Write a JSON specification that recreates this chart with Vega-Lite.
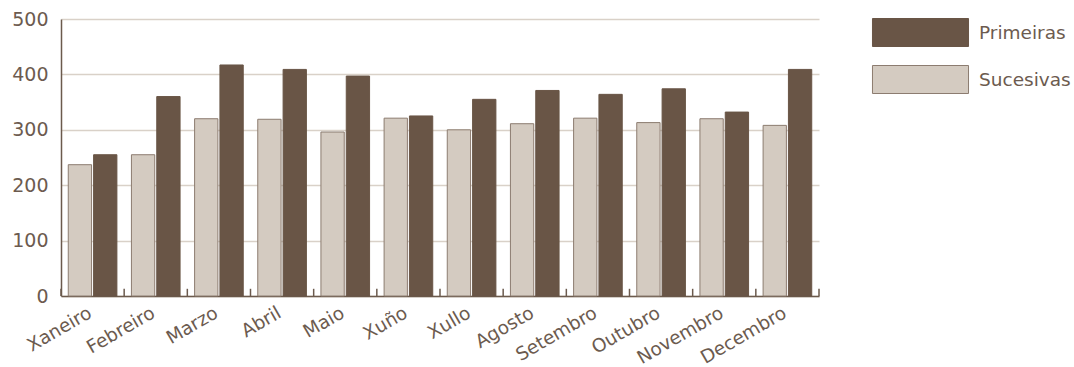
{
  "$schema": "https://vega.github.io/schema/vega-lite/v6.json",
  "width": 758,
  "height": 277,
  "autosize": {"type": "none"},
  "padding": {"left": 61, "top": 19, "right": 255, "bottom": 71},
  "background": "white",
  "config": {
    "view": {"stroke": null},
    "font": "DejaVu Sans",
    "axis": {"labelColor": "#6c5b4f", "labelFont": "DejaVu Sans"},
    "legend": {"labelColor": "#6c5b4f", "labelFont": "DejaVu Sans"}
  },
  "data": {
    "values": [
      {"mes": "Xaneiro", "tipo": "Sucesivas", "valor": 237},
      {"mes": "Xaneiro", "tipo": "Primeiras", "valor": 255},
      {"mes": "Febreiro", "tipo": "Sucesivas", "valor": 255},
      {"mes": "Febreiro", "tipo": "Primeiras", "valor": 360},
      {"mes": "Marzo", "tipo": "Sucesivas", "valor": 320},
      {"mes": "Marzo", "tipo": "Primeiras", "valor": 417},
      {"mes": "Abril", "tipo": "Sucesivas", "valor": 319},
      {"mes": "Abril", "tipo": "Primeiras", "valor": 409},
      {"mes": "Maio", "tipo": "Sucesivas", "valor": 296},
      {"mes": "Maio", "tipo": "Primeiras", "valor": 397},
      {"mes": "Xuño", "tipo": "Sucesivas", "valor": 321},
      {"mes": "Xuño", "tipo": "Primeiras", "valor": 325},
      {"mes": "Xullo", "tipo": "Sucesivas", "valor": 300},
      {"mes": "Xullo", "tipo": "Primeiras", "valor": 355},
      {"mes": "Agosto", "tipo": "Sucesivas", "valor": 311},
      {"mes": "Agosto", "tipo": "Primeiras", "valor": 371},
      {"mes": "Setembro", "tipo": "Sucesivas", "valor": 321},
      {"mes": "Setembro", "tipo": "Primeiras", "valor": 364},
      {"mes": "Outubro", "tipo": "Sucesivas", "valor": 313},
      {"mes": "Outubro", "tipo": "Primeiras", "valor": 374},
      {"mes": "Novembro", "tipo": "Sucesivas", "valor": 320},
      {"mes": "Novembro", "tipo": "Primeiras", "valor": 332},
      {"mes": "Decembro", "tipo": "Sucesivas", "valor": 308},
      {"mes": "Decembro", "tipo": "Primeiras", "valor": 409}
    ]
  },
  "encoding": {
    "x": {
      "field": "mes",
      "type": "nominal",
      "sort": null,
      "scale": {"paddingInner": 0.23, "paddingOuter": 0.115},
      "axis": {
        "title": null,
        "labelAngle": -30,
        "labelFontSize": 18.5,
        "labelPadding": 7,
        "labelOffset": -7,
        "ticks": false,
        "domainColor": "#6b5a4d",
        "domainWidth": 1.5,
        "grid": false
      }
    }
  },
  "layer": [
    {
      "mark": {"type": "bar", "strokeWidth": 1},
      "encoding": {
        "xOffset": {
          "field": "tipo",
          "type": "nominal",
          "sort": ["Sucesivas", "Primeiras"],
          "scale": {"paddingInner": 0.08}
        },
        "y": {
          "field": "valor",
          "type": "quantitative",
          "scale": {"domain": [0, 500], "nice": false},
          "axis": {
            "title": null,
            "values": [0, 100, 200, 300, 400, 500],
            "ticks": false,
            "labelPadding": 13,
            "labelFontSize": 19,
            "domainColor": "#6b5a4d",
            "domainWidth": 1.5,
            "gridColor": "#d9d1c8",
            "gridWidth": 1.5
          }
        },
        "color": {
          "field": "tipo",
          "type": "nominal",
          "scale": {"domain": ["Primeiras", "Sucesivas"], "range": ["#695546", "#d4cbc1"]},
          "legend": {
            "title": null,
            "orient": "none",
            "legendX": 845,
            "legendY": -1,
            "padding": 0,
            "symbolType": "M-3.43,-1H3.43V1H-3.43Z",
            "symbolSize": 784,
            "symbolStrokeWidth": 1,
            "labelFontSize": 18.5,
            "labelOffset": 44,
            "rowPadding": 14
          }
        },
        "stroke": {
          "field": "tipo",
          "type": "nominal",
          "scale": {"domain": ["Primeiras", "Sucesivas"], "range": ["#695546", "#8c7c70"]},
          "legend": {
            "title": null,
            "orient": "none",
            "legendX": 845,
            "legendY": -1,
            "padding": 0,
            "symbolType": "M-3.43,-1H3.43V1H-3.43Z",
            "symbolSize": 784,
            "symbolStrokeWidth": 1,
            "labelFontSize": 18.5,
            "labelOffset": 44,
            "rowPadding": 14
          }
        }
      }
    },
    {
      "transform": [{"filter": "datum.tipo === 'Sucesivas'"}],
      "mark": {"type": "rule", "color": "#6b5a4d", "strokeWidth": 1.5},
      "encoding": {
        "x": {"field": "mes", "type": "nominal", "sort": null, "bandPosition": -0.1494},
        "y": {"datum": 0, "type": "quantitative"},
        "y2": {"datum": 13}
      }
    },
    {
      "transform": [{"filter": "datum.tipo === 'Sucesivas' && datum.mes === 'Decembro'"}],
      "mark": {"type": "rule", "color": "#6b5a4d", "strokeWidth": 1.5},
      "encoding": {
        "x": {"field": "mes", "type": "nominal", "sort": null, "bandPosition": 1.1494},
        "y": {"datum": 0, "type": "quantitative"},
        "y2": {"datum": 13}
      }
    }
  ]
}
